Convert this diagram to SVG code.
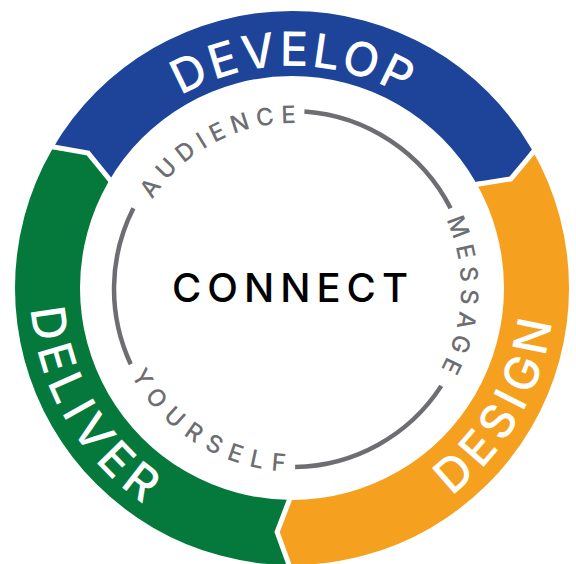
<svg xmlns="http://www.w3.org/2000/svg" width="576" height="564" viewBox="0 0 576 564">
<style>
.ringlbl{font-family:Inter,"Liberation Sans",sans-serif;font-size:47px;fill:#ffffff;font-weight:500}
.inner{font-family:Inter,"Liberation Sans",sans-serif;font-size:24px;fill:#6d6e71;font-weight:500}
.arc{fill:none;stroke:#6d6e71;stroke-width:4.5}
.sep{fill:none;stroke:#ffffff;stroke-width:5;stroke-linejoin:miter}
</style>
<defs>
<path id="pDevelop" d="M70,288 A222,222 0 0 1 514,288"/>
<path id="pDesign" d="M161,514.9 A262,262 0 0 0 423,61.1"/>
<path id="pDeliver" d="M161,61.1 A262,262 0 0 0 423,514.9"/>
<path id="pAudience" d="M142.8,368.3 A169,169 0 0 1 441.2,209.7"/>
<path id="pMessage" d="M297.9,120.1 A169,169 0 0 1 286.1,457.9"/>
<path id="pYourself" d="M133.5,189.9 A187,187 0 0 0 450.5,388.1"/>
</defs>
<rect width="576" height="564" fill="#ffffff"/>
<g id="develop">
<path d="M52.1,149.5 A277,277 0 0 1 531.9,149.5 L510.8,178.9 L475.6,182 A212,212 0 0 0 108.4,182 L88.1,153.1 Z" fill="#1d4499"/>
<text class="ringlbl"><textPath href="#pDevelop" startOffset="50%" text-anchor="middle" textLength="233" lengthAdjust="spacing">DEVELOP</textPath></text>
</g>
<g id="design">
<path d="M531.9,149.5 A277,277 0 0 1 292,565 L277.1,532 L292,500 A212,212 0 0 0 475.6,182 L510.8,178.9 Z" fill="#f5a11f"/>
<text class="ringlbl"><textPath href="#pDesign" startOffset="50%" text-anchor="middle" textLength="206" lengthAdjust="spacing">DESIGN</textPath></text>
</g>
<g id="deliver">
<path d="M292,565 A277,277 0 0 1 52.1,149.5 L88.1,153.1 L108.4,182 A212,212 0 0 0 292,500 L277.1,532 Z" fill="#05793b"/>
<text class="ringlbl"><textPath href="#pDeliver" startOffset="50%" text-anchor="middle" textLength="233" lengthAdjust="spacing">DELIVER</textPath></text>
</g>
<g id="connectors">
<polyline class="sep" points="45.2,145.5 88.1,153.1 114.5,185.5"/>
<polyline class="sep" points="538.8,145.5 510.8,178.9 469.5,185.5"/>
<polyline class="sep" points="292,573 277.1,532 292,493"/>
<path class="arc" d="M130.7,364.2 A178,178 0 0 1 133.4,208.2"/>
<path class="arc" d="M304.4,111.4 A178,178 0 0 1 450.6,208.2"/>
<path class="arc" d="M441.3,385.9 A178,178 0 0 1 295.1,467"/>
</g>
<g id="audience">
<text class="inner"><textPath href="#pAudience" startOffset="50%" text-anchor="middle" textLength="170" lengthAdjust="spacing">AUDIENCE</textPath></text>
</g>
<g id="message">
<text class="inner"><textPath href="#pMessage" startOffset="50%" text-anchor="middle" textLength="155" lengthAdjust="spacing">MESSAGE</textPath></text>
</g>
<g id="yourself">
<text class="inner"><textPath href="#pYourself" startOffset="50%" text-anchor="middle" textLength="190" lengthAdjust="spacing">YOURSELF</textPath></text>
</g>
<g id="connect">
<text x="290" y="302" text-anchor="middle" textLength="236" lengthAdjust="spacing" style="font-family:Inter,'Liberation Sans',sans-serif;font-size:40px;font-weight:500;fill:#000000">CONNECT</text>
</g>
</svg>
